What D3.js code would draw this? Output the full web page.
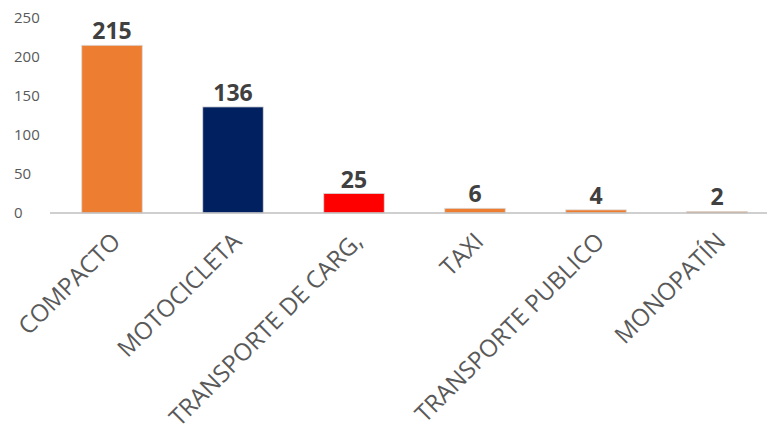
<!DOCTYPE html>
<html><head><meta charset="utf-8">
<script src="https://cdn.jsdelivr.net/npm/d3@7"></script>
<style>body{margin:0;background:#fff}svg{display:block}</style>
</head><body>
<svg id="c" width="767" height="432"></svg>
<script>
const categories = ["COMPACTO","MOTOCICLETA","TRANSPORTE DE CARG,","TAXI","TRANSPORTE PUBLICO","MONOPATÍN"];
const values = [215,136,25,6,4,2];
const barColors = ["#ED7D31","#002060","#FF0000","#ED7D31","#ED7D31","#ED7D31"];
const yTicks = [0,50,100,150,200,250];

const svg = d3.select("#c");
const x = d3.scaleBand().domain(categories).range([51.5,777.5]).paddingInner(0.5).paddingOuter(0.25);
const y = d3.scaleLinear().domain([0,250]).range([213,18]);

// y tick labels (left aligned)
svg.append("g").selectAll("text").data(yTicks).join("text")
  .attr("x",14).attr("y",d=>y(d)).attr("dy","0.35em")
  .attr("font-family","Open Sans").attr("font-size",15).attr("fill","#595959")
  .text(d=>d);

// bars
svg.append("g").selectAll("rect").data(values).join("rect")
  .attr("x",(d,i)=>x(categories[i])).attr("width",x.bandwidth())
  .attr("y",d=>y(d)).attr("height",d=>y(0)-y(d))
  .attr("fill",(d,i)=>barColors[i]).attr("stroke","#d9d9d9").attr("stroke-width",0.8);

// axis line
svg.append("line").attr("x1",50).attr("x2",767).attr("y1",y(0)).attr("y2",y(0))
  .attr("stroke","#bfbfbf").attr("stroke-width",1.5);

// value labels
svg.append("g").selectAll("text").data(values).join("text")
  .attr("x",(d,i)=>x(categories[i])+x.bandwidth()/2).attr("y",d=>y(d)-6)
  .attr("text-anchor","middle").attr("font-family","Open Sans").attr("font-weight","bold")
  .attr("font-size",23).attr("fill","#404040").text(d=>d);

// category labels
svg.append("g").selectAll("text").data(categories).join("text")
  .attr("transform",d=>`translate(${x(d)+x.bandwidth()/2+4},${237}) rotate(-45)`)
  .attr("text-anchor","end").attr("dy","0.35em")
  .attr("font-family","Open Sans").attr("font-size",24).attr("fill","#595959")
  .text(d=>d);
</script>
</body></html>
